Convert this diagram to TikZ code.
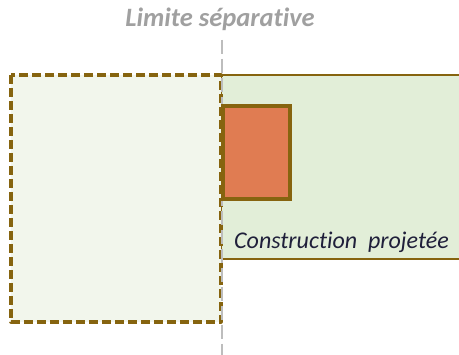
\documentclass[tikz,border=0pt]{standalone}
\usepackage{fontspec}
\setmainfont{Carlito}[Ligatures=NoCommon]
\definecolor{olivebrd}{HTML}{86640F}
\definecolor{palefill}{HTML}{F2F6EC}
\definecolor{greenfill}{HTML}{E2EED8}
\definecolor{orangefill}{HTML}{E07C52}
\definecolor{limitgray}{HTML}{A0A0A0}
\definecolor{textdark}{HTML}{1F1F3A}
\begin{document}
\begin{tikzpicture}[x=1pt,y=-1pt,
  existing/.style={draw=olivebrd,line width=3.2pt,fill=palefill,dash pattern=on 9pt off 4pt,line join=round},
  projected/.style={draw=olivebrd,line width=2.8pt,fill=greenfill},
  annex/.style={draw=olivebrd,line width=3.4pt,fill=orangefill},
  limitline/.style={draw=limitgray!70,line width=1.6pt,dash pattern=on 14pt off 5pt},
  lbl/.style={inner sep=0pt,font=\fontsize{24}{27}\selectfont\itshape,text=textdark,anchor=base west},
  title/.style={inner sep=0pt,font=\fontsize{26.5}{30}\selectfont\bfseries\itshape,text=limitgray}]
\useasboundingbox (0,0) rectangle (459,355);
\fill[white] (0,0) rectangle (459,355);
\draw[projected] (221,75) rectangle (470,259);
\draw[existing] (11,75) rectangle (221,322);
\coordinate (ltop) at (222,40);
\coordinate (lbot) at (222,360);
\draw[limitline] (ltop) -- (lbot);
\draw[annex] (223,106) rectangle (290,199);
\node[lbl] (cp) at (234,249) {Construction\ \ projetée};
\node[title] (lim) at (220,19) {Limite séparative};
\end{tikzpicture}
\end{document}
